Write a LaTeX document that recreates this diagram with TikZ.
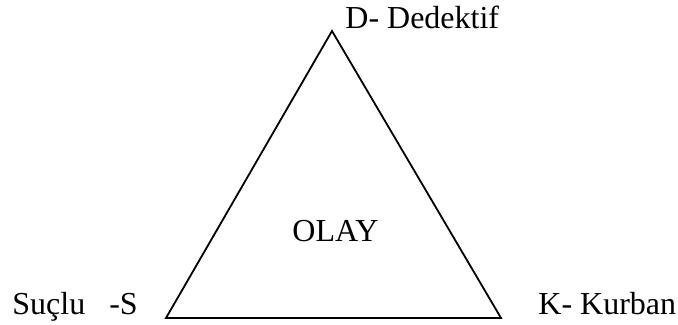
\documentclass[tikz,border=0pt]{standalone}
\usepackage{fontspec}
\setmainfont{Liberation Serif}
\begin{document}
\begin{tikzpicture}[x=0.5pt,y=-0.5pt,
  lbl/.style={anchor=base west,inner sep=0pt,font=\fontsize{16}{19}\selectfont},
  edge/.style={draw=black,line width=0.9pt,line join=miter}]
\useasboundingbox (0,0) rectangle (678,325);
\coordinate (d) at (332,31);
\coordinate (s) at (166,318);
\coordinate (k) at (501,318);
\draw[edge] (d) -- (s) -- (k) -- cycle;
\node[lbl] (dl) at (345,29) {D- Dedektif};
\node[lbl] (sl) at (12,314) {Suçlu\ \ \ -S};
\node[lbl] (kl) at (538,314) {K- Kurban};
\node[lbl] (ol) at (292,242) {OLAY};
\end{tikzpicture}
\end{document}
